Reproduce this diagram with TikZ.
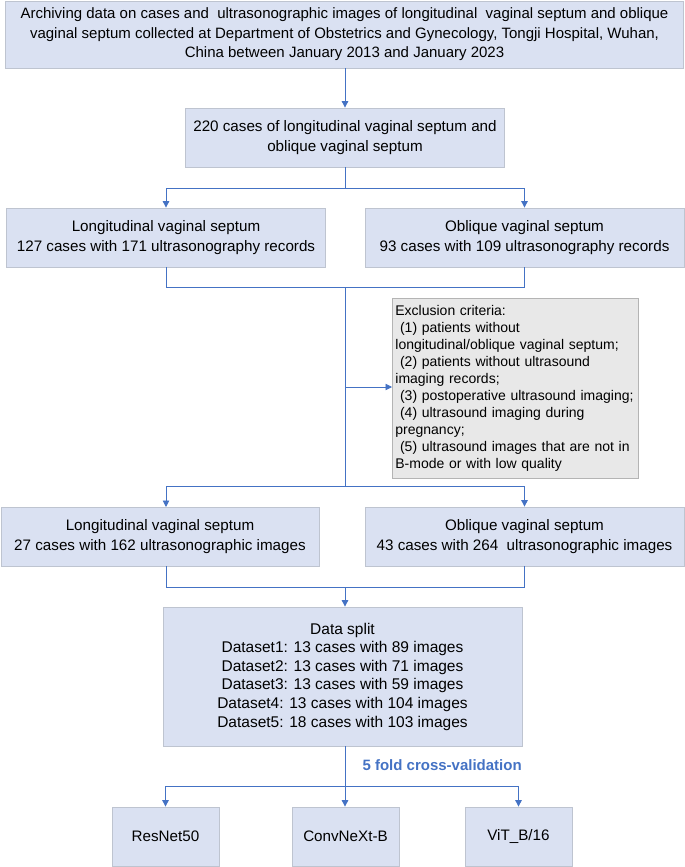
\documentclass[tikz,border=0pt]{standalone}
\usepackage{fontspec}
\setmainfont{Liberation Sans}
\usetikzlibrary{arrows.meta}
\definecolor{boxfill}{RGB}{218,225,242}
\definecolor{boxline}{RGB}{190,196,208}
\definecolor{greyfill}{RGB}{232,232,232}
\definecolor{greyline}{RGB}{180,180,180}
\definecolor{flowblue}{RGB}{68,114,196}
\tikzset{
    box/.style={draw=boxline, fill=boxfill, line width=0.8pt, align=center,
        inner sep=0pt, font=\fontsize{15.2}{19.5}\selectfont},
    exclbox/.style={draw=greyline, fill=greyfill, line width=0.8pt, align=left,
        inner sep=3pt, font=\fontsize{14}{16.9}\selectfont},
    flow/.style={draw=flowblue, line width=0.9pt},
    flowarr/.style={flow, -{Triangle[length=6.5pt,width=6.5pt]}}
}
\begin{document}
\begin{tikzpicture}[x=1pt,y=-1pt]
    \useasboundingbox (0,0) rectangle (685,867);
    % boxes
    \node[box, minimum width=678, minimum height=67, font=\fontsize{15}{19.5}\selectfont] (source) at (344.5,34.5)
        {Archiving data on cases and\ \ ultrasonographic images of longitudinal\ \ vaginal septum and oblique\\
         vaginal septum collected at Department of Obstetrics and Gynecology, Tongji Hospital, Wuhan,\\
         China between January 2013 and January 2023};
    \node[box, minimum width=319, minimum height=59] (total) at (345,137.5)
        {220 cases of longitudinal vaginal septum and\\ oblique vaginal septum};
    \node[box, minimum width=319, minimum height=59] (longrec) at (166,237.5)
        {Longitudinal vaginal septum\\ 127 cases with 171 ultrasonography records};
    \node[box, minimum width=319, minimum height=59] (oblrec) at (524.5,237.5)
        {Oblique vaginal septum\\ 93 cases with 109 ultrasonography records};
    \node[exclbox, text width=240, minimum height=180, anchor=north west] (excl) at (392,298)
        {Exclusion criteria:\\
         \ (1) patients without\\
         longitudinal/oblique vaginal septum;\\
         \ (2) patients without ultrasound\\
         imaging records;\\
         \ (3) postoperative ultrasound imaging;\\
         \ (4) ultrasound imaging during\\
         pregnancy;\\
         \ (5) ultrasound images that are not in\\
         B-mode or with low quality};
    \node[box, minimum width=318, minimum height=59] (longimg) at (160,536.5)
        {Longitudinal vaginal septum\\ 27 cases with 162 ultrasonographic images};
    \node[box, minimum width=319, minimum height=59] (oblimg) at (524.5,536.5)
        {Oblique vaginal septum\\ 43 cases with 264\ \ ultrasonographic images};
    \node[box, minimum width=359, minimum height=139, font=\fontsize{15.5}{18.6}\selectfont] (split) at (342.5,676.5)
        {Data split\\
         Dataset1: 13 cases with 89 images\\
         Dataset2: 13 cases with 71 images\\
         Dataset3: 13 cases with 59 images\\
         Dataset4: 13 cases with 104 images\\
         Dataset5: 18 cases with 103 images};
    \node[box, minimum width=107, minimum height=59] (resnet) at (165.5,836.5) {ResNet50};
    \node[box, minimum width=107, minimum height=59] (convnext) at (345.5,836.5) {ConvNeXt-B};
    \node[box, minimum width=107, minimum height=59] (vit) at (518.5,836.5) {ViT\_B/16};
    % junction points
    \coordinate (split1) at (345,188);
    \coordinate (merge1) at (345,287);
    \coordinate (toexcl) at (345,387);
    \coordinate (split2) at (345,486);
    \coordinate (merge2) at (345,587);
    \coordinate (split3) at (345,786);
    % connectors
    \draw[flowarr] (source.south -| total) -- (total);
    \draw[flow] (total) -- (split1);
    \draw[flowarr] (split1) -| (longrec);
    \draw[flowarr] (split1) -| (oblrec);
    \draw[flow] (longrec) |- (merge1);
    \draw[flow] (oblrec) |- (merge1);
    \draw[flow] (merge1) -- (split2);
    \draw[flowarr] (toexcl) -- (toexcl -| excl.west);
    \draw[flowarr] (split2) -| (166,507);
    \draw[flowarr] (split2) -| (oblimg);
    \draw[flow] (166,566) |- (merge2);
    \draw[flow] (oblimg) |- (merge2);
    \draw[flowarr] (merge2) -- (merge2 |- split.north);
    \draw[flow] (split.south -| split3) -- (split3);
    \draw[flowarr] (split3) -| (resnet);
    \draw[flowarr] (split3) -- (convnext.north -| split3);
    \draw[flowarr] (split3) -| (vit);
    \node[font=\fontsize{15}{18}\selectfont\bfseries, text=flowblue, anchor=west]
        (cvlabel) at (359,765) {5 fold cross-validation};
\end{tikzpicture}
\end{document}
